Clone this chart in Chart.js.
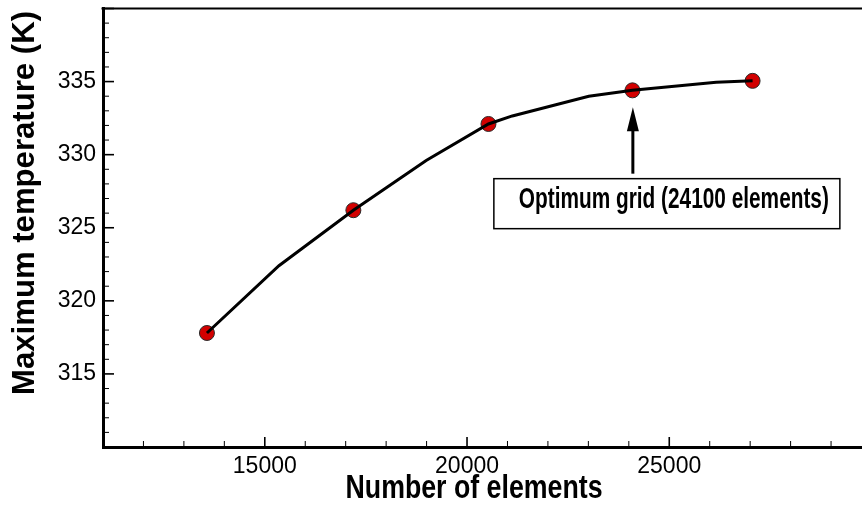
<!DOCTYPE html>
<html>
<head>
<meta charset="utf-8">
<script src="https://cdn.jsdelivr.net/npm/chart.js@4"></script>
<style>
  html, body { margin: 0; padding: 0; background: #fff; overflow: hidden; }
  #wrap { width: 862px; height: 508px; overflow: hidden; }
</style>
</head>
<body>
<div id="wrap"><canvas id="myChart" width="880" height="508"></canvas></div>
<script>
// grid study: mesh points and fitted curve
const elements = [13570, 17190, 20530, 24090, 27060];
const maxTemp = [317.8, 326.2, 332.1, 334.4, 335.05];

const curveX = [13570, 15350, 17190, 18990, 20530, 21120, 23010, 24090, 26160, 27060];
const curveY = [317.8, 322.4, 326.2, 329.6, 332.1, 332.65, 334.0, 334.4, 334.95, 335.05];

const xTitle = 'Number of elements';
const yTitle = 'Maximum temperature (K)';
const noteText = 'Optimum grid (24100 elements)';
const optimumX = 24100;
const arrowFrom = 328.7;
const arrowTo = 333.25;

const fontName = '"Liberation Sans", Arial, Helvetica, sans-serif';

function toPoints(xs, ys) {
    return xs.map((x, i) => ({ x: x, y: ys[i] }));
}

// draws text squeezed horizontally to a given width
function squeezed(ctx, text, x, y, width, angle) {
    ctx.save();
    ctx.translate(x, y);
    ctx.rotate(angle || 0);
    const w = ctx.measureText(text).width;
    ctx.scale(width / w, 1);
    ctx.textAlign = 'center';
    ctx.textBaseline = 'alphabetic';
    ctx.fillText(text, 0, 0);
    ctx.restore();
}

const decorations = {
    id: 'decorations',
    afterDatasetsDraw(chart) {
        const ctx = chart.ctx;
        const area = chart.chartArea;
        const xs = chart.scales.x;
        const ys = chart.scales.y;
        ctx.save();
        ctx.strokeStyle = '#000';

        // inward ticks
        xs.ticks.forEach(t => {
            const px = xs.getPixelForValue(t.value);
            const major = t.value % 5000 === 0;
            ctx.lineWidth = major ? 1.6 : 1;
            ctx.beginPath();
            ctx.moveTo(px, area.bottom);
            ctx.lineTo(px, area.bottom - (major ? 10 : 6));
            ctx.stroke();
        });
        ys.ticks.forEach(t => {
            const py = ys.getPixelForValue(t.value);
            const major = t.value % 5 === 0;
            ctx.lineWidth = major ? 1.6 : 1;
            ctx.beginPath();
            ctx.moveTo(area.left, py);
            ctx.lineTo(area.left + (major ? 11 : 6), py);
            ctx.stroke();
        });

        // top frame
        ctx.lineWidth = 2;
        ctx.beginPath();
        ctx.moveTo(area.left - 1.5, area.top);
        ctx.lineTo(area.right, area.top);
        ctx.stroke();

        // arrow to optimum
        const ax = xs.getPixelForValue(optimumX);
        const tail = ys.getPixelForValue(arrowFrom);
        const tip = ys.getPixelForValue(arrowTo);
        ctx.lineWidth = 3;
        ctx.beginPath();
        ctx.moveTo(ax, tail);
        ctx.lineTo(ax, tip + 20);
        ctx.stroke();
        ctx.fillStyle = '#000';
        ctx.beginPath();
        ctx.moveTo(ax, tip);
        ctx.lineTo(ax - 6, tip + 24);
        ctx.lineTo(ax + 6, tip + 24);
        ctx.closePath();
        ctx.fill();

        // note box
        const bx = ax - 139, by = tail + 5, bw = 346, bh = 50;
        ctx.fillStyle = '#fff';
        ctx.fillRect(bx, by, bw, bh);
        ctx.lineWidth = 1.5;
        ctx.strokeRect(bx, by, bw, bh);
        ctx.fillStyle = '#000';
        ctx.font = 'bold 29px ' + fontName;
        squeezed(ctx, noteText, bx + bw / 2 + 7, by + 29, 310);

        // axis titles
        ctx.font = 'bold 34px ' + fontName;
        squeezed(ctx, xTitle, 474, 498, 257);
        ctx.font = 'bold 32px ' + fontName;
        squeezed(ctx, yTitle, 34, 203, 384, -Math.PI / 2);
        ctx.restore();
    }
};

const ctx = document.getElementById('myChart').getContext('2d');
const myChart = new Chart(ctx, {
    type: 'scatter',
    data: {
        datasets: [{
            label: 'fit',
            data: toPoints(curveX, curveY),
            showLine: true,
            borderColor: '#000',
            borderWidth: 3,
            pointRadius: 0,
            tension: 0
        }, {
            label: 'Maximum temperature',
            data: toPoints(elements, maxTemp),
            pointRadius: 7.5,
            pointBackgroundColor: '#d20000',
            pointBorderColor: '#2a2a2a',
            pointBorderWidth: 1
        }]
    },
    options: {
        responsive: false,
        animation: false,
        layout: { padding: { top: 6, right: 4, left: 0, bottom: 0 } },
        plugins: {
            legend: { display: false },
            tooltip: { enabled: false }
        },
        scales: {
            x: {
                type: 'linear',
                min: 11000,
                max: 30000,
                afterFit: s => { s.height = 61; s.paddingLeft = 0; s.paddingRight = 0; },
                ticks: {
                    stepSize: 1000,
                    autoSkip: false,
                    maxRotation: 0,
                    padding: 6,
                    color: '#000',
                    font: { family: fontName, size: 23 },
                    callback: v => (v % 5000 === 0 && v > 11000 && v < 30000) ? String(v) : ''
                },
                grid: { drawOnChartArea: false, drawTicks: false },
                border: { display: true, color: '#000', width: 3 }
            },
            y: {
                min: 310,
                max: 340,
                afterFit: s => { s.width = 103; s.paddingTop = 0; s.paddingBottom = 0; },
                ticks: {
                    stepSize: 1,
                    autoSkip: false,
                    padding: 7,
                    color: '#000',
                    font: { family: fontName, size: 23 },
                    callback: v => (v % 5 === 0 && v > 310 && v < 340) ? String(v) : ''
                },
                grid: { drawOnChartArea: false, drawTicks: false },
                border: { display: true, color: '#000', width: 3 }
            }
        }
    },
    plugins: [decorations]
});
</script>
</body>
</html>
